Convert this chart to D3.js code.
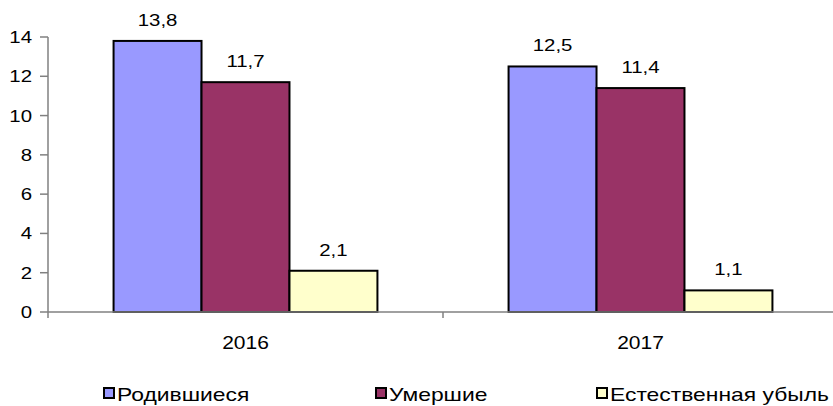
<!DOCTYPE html>
<html lang="ru">
<head>
    <meta charset="UTF-8">
    <title>Рождаемость и смертность</title>
    <script src="https://cdn.jsdelivr.net/npm/d3@7"></script>
    <style>
        body { margin: 0; background: #fff; }
        text { font-family: "Liberation Sans", Arial, sans-serif; fill: #000; }
    </style>
</head>
<body>
    <svg id="mainsvg" width="833" height="406"></svg>
    <script>
        // данные
        const years = ["2016", "2017"];
        const series = ["Родившиеся", "Умершие", "Естественная убыль"];
        const born = [13.8, 12.5];
        const died = [11.7, 11.4];
        const decline = [2.1, 1.1];
        const yTicks = [0, 2, 4, 6, 8, 10, 12, 14];
        const colors = ["#9999ff", "#993366", "#ffffcc"];

        const values = [born, died, decline];
        const rows = [];
        years.forEach((yr, i) => {
            series.forEach((s, j) => rows.push({year: yr, series: s, value: values[j][i]}));
        });

        const svg = d3.select("svg");
        const sx = 1.2; // текст в оригинале немного растянут по горизонтали

        const x0 = d3.scaleBand().domain(years).range([48, 838]);
        const x1 = d3.scaleBand().domain(series)
            .range([x0.bandwidth() * 0.166, x0.bandwidth() * 0.834]);
        const y = d3.scaleLinear().domain([0, 14]).range([312, 37]);
        const color = d3.scaleOrdinal().domain(series).range(colors);

        function label(sel, anchor, size) {
            return sel.attr("font-size", size).attr("text-anchor", anchor);
        }

        // ось Y
        const gy = svg.append("g");
        gy.append("line")
            .attr("x1", 48).attr("x2", 48)
            .attr("y1", y(14)).attr("y2", y(0))
            .attr("stroke", "#808080").attr("stroke-width", 1.5);
        gy.selectAll(".ytick")
            .data(yTicks)
            .join("line")
            .attr("x1", 40).attr("x2", 48)
            .attr("y1", d => y(d)).attr("y2", d => y(d))
            .attr("stroke", "#808080").attr("stroke-width", 1.5);
        gy.selectAll(".ylab")
            .data(yTicks)
            .join("text")
            .attr("transform", d => `translate(32, ${y(d) + 6}) scale(${sx},1)`)
            .call(label, "end", 17)
            .text(d => d);

        // столбцы
        const gb = svg.append("g");
        gb.selectAll("rect")
            .data(rows)
            .join("rect")
            .attr("x", d => x0(d.year) + x1(d.series))
            .attr("y", d => y(d.value))
            .attr("width", x1.bandwidth())
            .attr("height", d => y(0) - y(d.value))
            .attr("fill", d => color(d.series))
            .attr("stroke", "#000")
            .attr("stroke-width", 2);

        gb.selectAll(".vlab")
            .data(rows)
            .join("text")
            .attr("transform", d => `translate(${x0(d.year) + x1(d.series) + x1.bandwidth() / 2}, ${y(d.value) - 15}) scale(${sx},1)`)
            .call(label, "middle", 17)
            .text(d => String(d.value).replace(".", ","));

        // ось X
        const gx = svg.append("g");
        gx.append("line")
            .attr("x1", 48).attr("x2", 838)
            .attr("y1", y(0)).attr("y2", y(0))
            .attr("stroke", "#808080").attr("stroke-width", 1.5);
        gx.selectAll(".xtick")
            .data(years.concat(["end"]))
            .join("line")
            .attr("x1", (d, i) => 48 + i * x0.bandwidth())
            .attr("x2", (d, i) => 48 + i * x0.bandwidth())
            .attr("y1", y(0)).attr("y2", y(0) + 6)
            .attr("stroke", "#808080").attr("stroke-width", 1.5);
        gx.selectAll(".xlab")
            .data(years)
            .join("text")
            .attr("transform", d => `translate(${x0(d) + x0.bandwidth() / 2}, 349) scale(${sx},1)`)
            .call(label, "middle", 17.5)
            .text(d => d);

        // легенда
        const legendX = d3.scaleOrdinal().domain(series).range([104, 376, 597]);
        const lg = svg.append("g").selectAll("g")
            .data(series)
            .join("g")
            .attr("transform", d => `translate(${legendX(d)}, 388)`);
        lg.append("rect")
            .attr("width", 10).attr("height", 10)
            .attr("fill", d => color(d))
            .attr("stroke", "#000").attr("stroke-width", 2);
        lg.append("text")
            .attr("transform", `translate(13, 13) scale(1.27,1)`)
            .call(label, "start", 18)
            .text(d => d);
    </script>
</body>
</html>
